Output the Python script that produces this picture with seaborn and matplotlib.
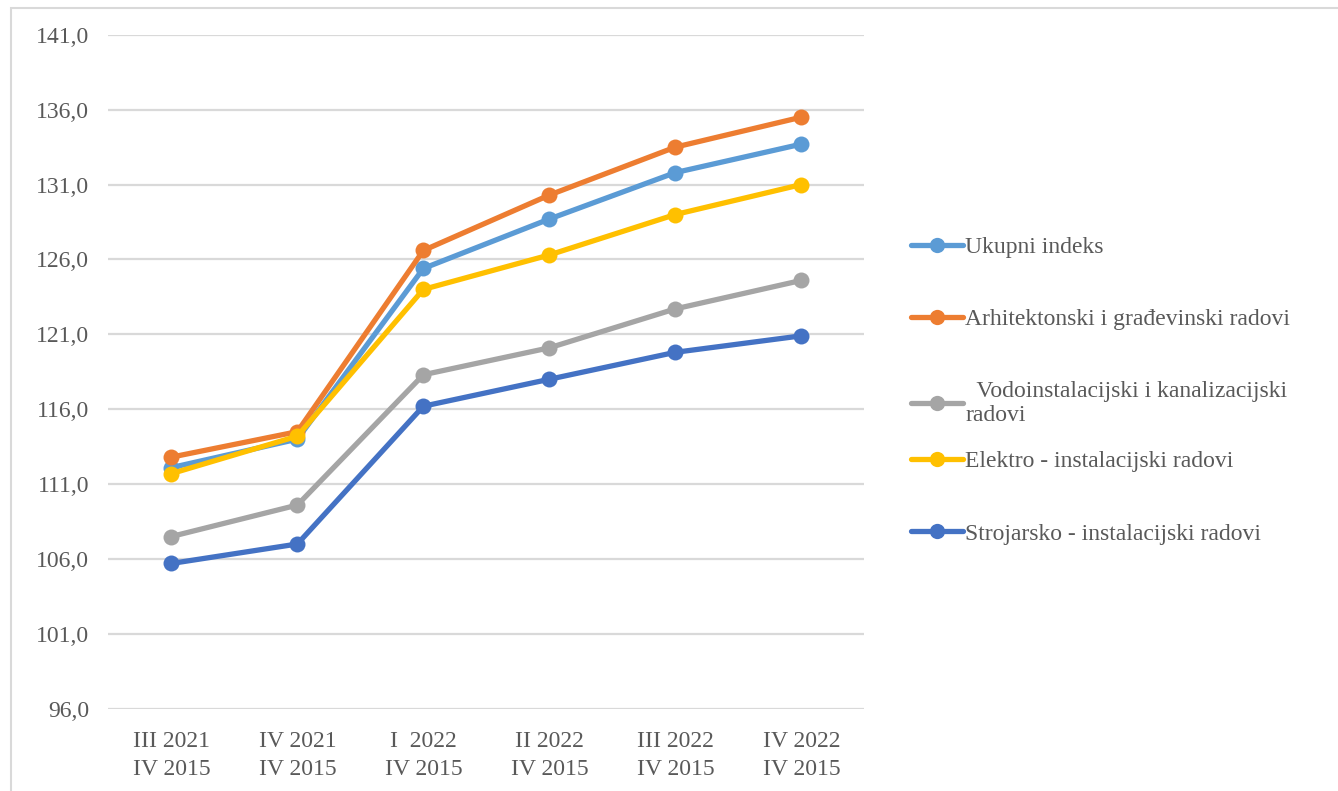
import pandas as pd
import numpy as np
import matplotlib.pyplot as plt
import seaborn as sns
from matplotlib.patches import Rectangle

# Periods (current quarter vs. base IV 2015)
periods = ['III 2021\nIV 2015', 'IV 2021\nIV 2015', 'I  2022\nIV 2015',
           'II 2022\nIV 2015', 'III 2022\nIV 2015', 'IV 2022\nIV 2015']

ukupni = [112.1, 114.0, 125.4, 128.7, 131.8, 133.7]
arhitektonski = [112.8, 114.5, 126.6, 130.3, 133.5, 135.5]
vodoinstalacijski = [107.5, 109.6, 118.3, 120.1, 122.7, 124.6]
elektro = [111.7, 114.2, 124.0, 126.3, 129.0, 131.0]
strojarsko = [105.7, 107.0, 116.2, 118.0, 119.8, 120.9]

series_names = ['Ukupni indeks',
                'Arhitektonski i građevinski radovi',
                '  Vodoinstalacijski i kanalizacijski\nradovi',
                'Elektro - instalacijski radovi',
                'Strojarsko - instalacijski radovi']
colors = ['#5B9BD5', '#ED7D31', '#A5A5A5', '#FFC000', '#4472C4']

y_ticks = [96.0, 101.0, 106.0, 111.0, 116.0, 121.0, 126.0, 131.0, 136.0, 141.0]

# long-form table for seaborn
rows = []
for name, vals in zip(series_names, [ukupni, arhitektonski, vodoinstalacijski, elektro, strojarsko]):
    for i, v in enumerate(vals):
        rows.append({'pos': i, 'value': v, 'series': name})
df = pd.DataFrame(rows)

sns.set_style('white')
plt.rcParams['font.family'] = ['Liberation Serif', 'DejaVu Serif']

fig = plt.figure(figsize=(13.38, 7.91), dpi=100)
ax = fig.add_axes([0.081, 0.104, 0.565, 0.852])

sns.lineplot(data=df, x='pos', y='value', hue='series', hue_order=series_names,
             palette=colors, marker='o', markersize=11.5, markeredgewidth=0,
             linewidth=3.8, ax=ax, legend=False, zorder=3)

ax.set_ylim(96, 141)
ax.set_xlim(-0.5, len(periods) - 0.5)
ax.set_yticks(y_ticks)
ax.set_yticklabels([f'{t:.1f}'.replace('.', ',') for t in y_ticks])
ax.set_xticks(range(len(periods)))
ax.set_xticklabels(periods, linespacing=1.45)
ax.set_xlabel('')
ax.set_ylabel('')
ax.yaxis.grid(True, color='#d9d9d9', linewidth=1.6)
ax.set_axisbelow(True)
for s in ax.spines.values():
    s.set_visible(False)
ax.tick_params(axis='both', length=0, labelsize=17, colors='#595959')
ax.tick_params(axis='x', pad=16)
ax.tick_params(axis='y', pad=14)

# legend on the right (split in two so the wrapped entry doesn't push the rest down)
handles = [plt.Line2D([], [], color=c, marker='o', markersize=11, linewidth=3.8,
                      markeredgewidth=0) for c in colors]
leg_kw = dict(loc='upper left', frameon=False, fontsize=17, labelspacing=2.15,
              handlelength=2.2, handletextpad=0.1, labelcolor='#595959')
leg1 = fig.legend(handles[:3], series_names[:3], bbox_to_anchor=(0.665, 0.728), **leg_kw)
leg2 = fig.legend(handles[3:], series_names[3:], bbox_to_anchor=(0.665, 0.457), **leg_kw)

# outer chart frame
frame = Rectangle((0.008, -0.05), 1.2, 1.04, transform=fig.transFigure,
                  fill=False, edgecolor='#d9d9d9', linewidth=1.5)
fig.patches.append(frame)

fig.savefig('out.png', dpi=100)
